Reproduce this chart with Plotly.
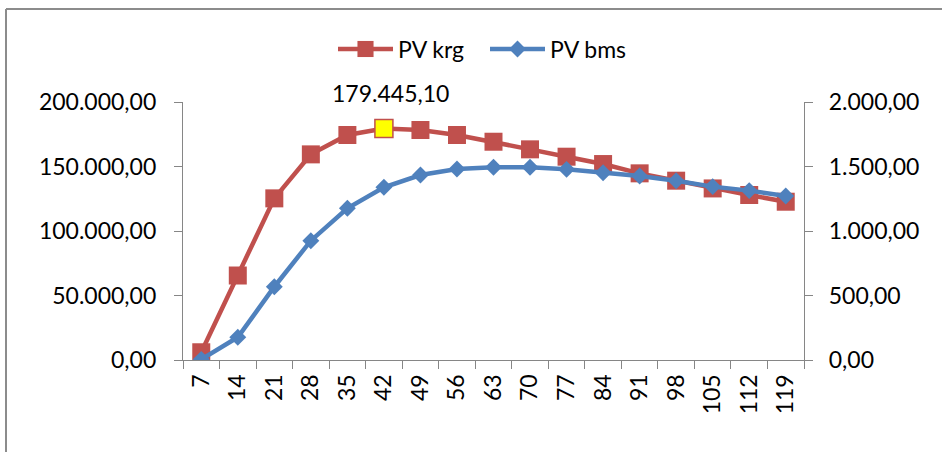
import plotly.graph_objects as go

days = ["7", "14", "21", "28", "35", "42", "49", "56", "63", "70", "77", "84", "91", "98", "105", "112", "119"]
pv_krg = [6000, 65500, 125300, 159400, 174400, 179445.10, 178300, 174400, 169200, 163300, 157600, 151900, 144700, 139000, 133000, 127900, 122700]
pv_bms = [5, 176, 568, 925, 1176, 1339, 1434, 1481, 1494, 1494, 1478, 1452, 1426, 1390, 1344, 1313, 1271]
peak_label = "179.445,10"
peak_day = "42"

RED = "#C0504D"
BLUE = "#4F81BD"
FONT = "Lato"

W, H = 942, 452
L, R, T, B = 183, 138, 102, 92

peak_i = days.index(peak_day)
fill = ["#FFFF00" if d == peak_day else RED for d in days]
edge = [RED for d in days]
lw = [1.5 if d == peak_day else 0 for d in days]

fig = go.Figure()
fig.add_trace(go.Scatter(
    x=days, y=pv_krg, name="PV krg", mode="lines+markers",
    line=dict(color=RED, width=4.5),
    marker=dict(symbol="square", size=18, color=fill, line=dict(color=edge, width=lw)),
    yaxis="y",
))
fig.add_trace(go.Scatter(
    x=days, y=pv_bms, name="PV bms", mode="lines+markers",
    line=dict(color=BLUE, width=4.5),
    marker=dict(symbol="diamond", size=13, color=BLUE),
    yaxis="y2",
))

axis_common = dict(
    showgrid=False, zeroline=False, showline=True, linecolor="#868686", linewidth=1.3,
    ticks="outside", ticklen=8, tickcolor="#868686", tickwidth=1.3,
    tickfont=dict(family=FONT, size=23, color="#000000"),
)

fig.update_layout(
    width=W, height=H,
    margin=dict(l=L, r=R, t=T, b=B, pad=0),
    paper_bgcolor="white", plot_bgcolor="white",
    separators=",.",
    font=dict(family=FONT, size=23, color="#000000"),
    showlegend=True,
    legend=dict(
        orientation="h", xref="container", yref="container",
        x=333 / W, y=1 - 49 / H, xanchor="left", yanchor="middle",
        font=dict(family=FONT, size=23, color="#000000"),
        itemwidth=55, entrywidth=82, bgcolor="rgba(0,0,0,0)",
    ),
    xaxis=dict(type="category", categoryorder="array", categoryarray=days,
               range=[-0.5, len(days) - 0.5], tickmode="array", tickvals=days, ticktext=days,
               tickson="boundaries", tickangle=-90, ticklabelstandoff=4, **axis_common),
    yaxis=dict(range=[0, 200000], dtick=50000, tickformat=",.2f", ticklabelstandoff=13, **axis_common),
    yaxis2=dict(range=[0, 2000], dtick=500, tickformat=",.2f", overlaying="y", side="right",
                ticklabelstandoff=11, **axis_common),
    annotations=[dict(
        x=peak_i, y=pv_krg[peak_i], xref="x", yref="y",
        text=peak_label, showarrow=False, yshift=36, xshift=7,
        font=dict(family=FONT, size=23, color="#000000"),
    )],
    shapes=[
        dict(type="line", xref="paper", yref="paper",
             x0=(6 - L) / (W - L - R), x1=(6 - L) / (W - L - R),
             y0=(H - B - 9) / (H - T - B), y1=(H - B - 470) / (H - T - B),
             line=dict(color="#8C8C8C", width=2)),
        dict(type="line", xref="paper", yref="paper",
             x0=(6 - L) / (W - L - R), x1=(960 - L) / (W - L - R),
             y0=(H - B - 9) / (H - T - B), y1=(H - B - 9) / (H - T - B),
             line=dict(color="#8C8C8C", width=2)),
    ],
)

fig.write_html("out.html")
